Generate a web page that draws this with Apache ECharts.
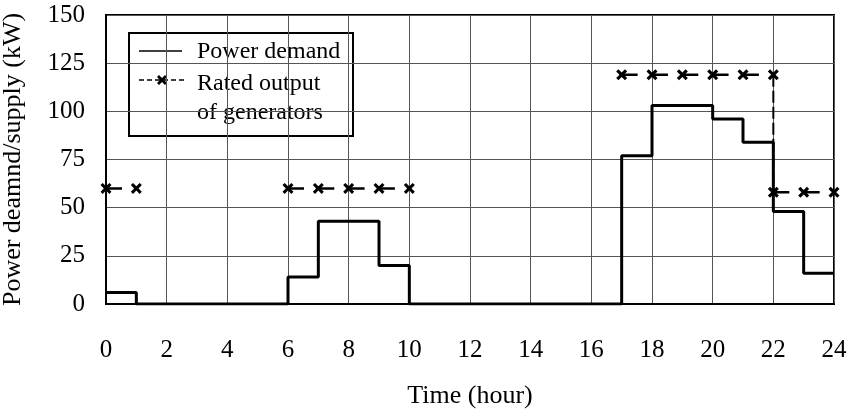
<!DOCTYPE html>
<html>
<head>
<meta charset="utf-8">
<script src="https://cdn.jsdelivr.net/npm/echarts@6/dist/echarts.min.js"></script>
<style>
  html, body { margin: 0; padding: 0; background: #fff; }
  #chart { width: 858px; height: 414px; }
</style>
</head>
<body>
<div id="chart"></div>
<script>
// Hourly power demand (kW), value held over [hour, hour+1)
const demandHours = [0,1,2,3,4,5,6,7,8,9,10,11,12,13,14,15,16,17,18,19,20,21,22,23,24];
const demandValues = [6,0,0,0,0,0,14,43,43,20,0,0,0,0,0,0,0,77,103,103,96,84,48,16,16];

// Rated output of the generators in operation, per running block
const ratedNightHours = [0, 1];
const ratedNightValues = [60, 60];
const ratedMorningHours = [6, 7, 8, 9, 10];
const ratedMorningValues = [60, 60, 60, 60, 60];
const ratedEveningHours = [17, 18, 19, 20, 21, 22];
const ratedEveningValues = [119, 119, 119, 119, 119, 119];
const ratedLateHours = [22, 23, 24];
const ratedLateValues = [58, 58, 58];

const xTicks = [0, 2, 4, 6, 8, 10, 12, 14, 16, 18, 20, 22, 24];
const yTicks = [0, 25, 50, 75, 100, 125, 150];

const FONT = '"Liberation Serif", "DejaVu Serif", serif';
const pairs = (xs, ys) => xs.map((x, i) => [x, ys[i]]);
const crossPath = 'path://M0,2 L2,0 L5,3 L8,0 L10,2 L7,5 L10,8 L8,10 L5,7 L2,10 L0,8 L3,5 Z';
const crossPoints = [[0,2],[2,0],[5,3],[8,0],[10,2],[7,5],[10,8],[8,10],[5,7],[2,10],[0,8],[3,5]];

function ratedSeries(name, data) {
  return {
    name: name,
    type: 'line',
    data: data,
    symbol: crossPath,
    symbolSize: 11,
    showSymbol: true,
    itemStyle: { color: '#000' },
    lineStyle: { color: '#000', width: 2.5, type: [16, 14.3] },
    animation: false,
    z: 3
  };
}

const chart = echarts.init(document.getElementById('chart'), null, { renderer: 'canvas' });
chart.setOption({
  backgroundColor: '#fff',
  animation: false,
  grid: {
    left: 106, right: 24, top: 15, bottom: 110,
    outerBoundsMode: 'none',
    containLabel: false,
    show: true, borderColor: '#000', borderWidth: 2, backgroundColor: 'transparent'
  },
  xAxis: {
    type: 'value',
    min: xTicks[0], max: xTicks[xTicks.length - 1], interval: 2,
    name: 'Time (hour)',
    nameLocation: 'middle',
    nameGap: 79,
    nameTextStyle: { fontFamily: FONT, fontSize: 26, color: '#000', verticalAlign: 'top' },
    axisLine: { show: true, lineStyle: { color: '#000', width: 2 } },
    axisTick: { show: false },
    axisLabel: { fontFamily: FONT, fontSize: 25, color: '#000', margin: 34 },
    splitLine: { show: true, lineStyle: { color: '#555', width: 1 } }
  },
  yAxis: {
    type: 'value',
    min: yTicks[0], max: yTicks[yTicks.length - 1], interval: 25,
    name: 'Power deamnd/supply (kW)',
    nameLocation: 'middle',
    nameGap: 80,
    nameRotate: 90,
    nameTextStyle: { fontFamily: FONT, fontSize: 26, color: '#000' },
    axisLine: { show: true, lineStyle: { color: '#000', width: 2 } },
    axisTick: { show: false },
    axisLabel: { fontFamily: FONT, fontSize: 25, color: '#000', margin: 21 },
    splitLine: { show: true, lineStyle: { color: '#555', width: 1 } }
  },
  series: [
    {
      name: 'Power demand',
      type: 'line',
      step: 'end',
      data: pairs(demandHours, demandValues),
      showSymbol: false,
      symbol: 'none',
      lineStyle: { color: '#000', width: 3 },
      animation: false,
      z: 4
    },
    ratedSeries('Rated output of generators', pairs(ratedNightHours, ratedNightValues)),
    ratedSeries('Rated output of generators', pairs(ratedMorningHours, ratedMorningValues)),
    ratedSeries('Rated output of generators', pairs(ratedEveningHours, ratedEveningValues)),
    ratedSeries('Rated output of generators', pairs(ratedLateHours, ratedLateValues)),
    {
      // drop of rated output at 22 h
      name: 'Rated output of generators',
      type: 'line',
      data: [[ratedEveningHours[ratedEveningHours.length - 1], ratedEveningValues[ratedEveningValues.length - 1]],
             [ratedLateHours[0], ratedLateValues[0]]],
      showSymbol: false,
      symbol: 'none',
      lineStyle: { color: '#000', width: 2, type: [12, 4] },
      animation: false,
      z: 3
    }
  ],
  graphic: [
    {
      type: 'group',
      x: 129, y: 33,
      children: [
        { type: 'rect', shape: { x: 0, y: 0, width: 224, height: 103 },
          style: { fill: '#fff', stroke: '#000', lineWidth: 2 } },
        { type: 'line', shape: { x1: 10, y1: 18, x2: 53, y2: 18 },
          style: { stroke: '#000', lineWidth: 1.5 } },
        { type: 'text', x: 68, y: 19,
          style: { text: 'Power demand', font: '24px ' + FONT, fill: '#000', verticalAlign: 'middle' } },
        { type: 'line', shape: { x1: 10, y1: 47, x2: 57, y2: 47 },
          style: { stroke: '#000', lineWidth: 1.5, lineDash: [5, 3] } },
        { type: 'polygon', shape: { points: crossPoints },
          x: 28, y: 42, style: { fill: '#000' } },
        { type: 'text', x: 68, y: 51,
          style: { text: 'Rated output', font: '24px ' + FONT, fill: '#000', verticalAlign: 'middle' } },
        { type: 'text', x: 68, y: 80,
          style: { text: 'of generators', font: '24px ' + FONT, fill: '#000', verticalAlign: 'middle' } }
      ]
    }
  ]
});
</script>
</body>
</html>
